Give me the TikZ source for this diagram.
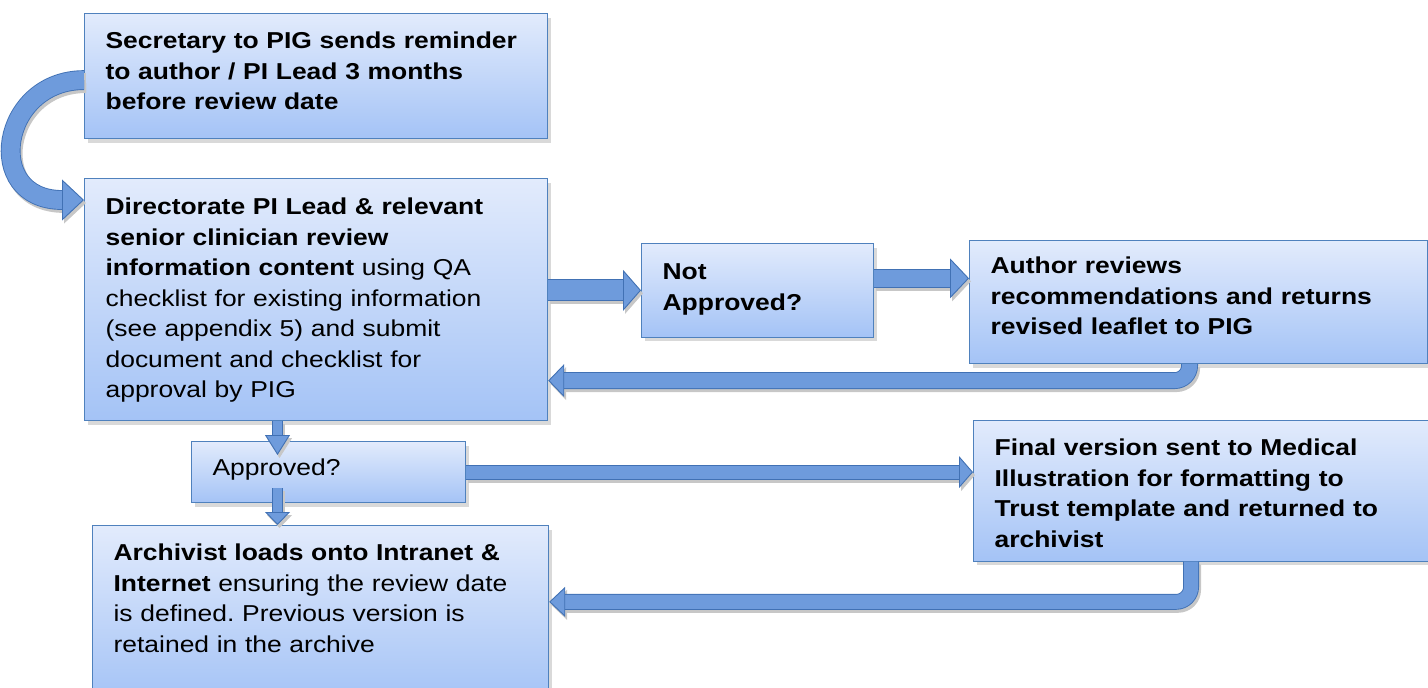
\documentclass[tikz,border=0pt]{standalone}
\usepackage{fontspec}
\setmainfont{Liberation Sans}[FakeStretch=1.15]
\usetikzlibrary{arrows.meta, calc, shadows}

\definecolor{boxtop}{RGB}{226,235,252}
\definecolor{boxbot}{RGB}{164,195,246}
\definecolor{boxline}{RGB}{79,129,189}
\definecolor{arrfill}{RGB}{110,155,220}
\definecolor{arrline}{RGB}{65,113,180}
\colorlet{tipfill}{arrfill}
\frenchspacing

% struts that fix the space above the first and below the last line
\newcommand{\topgap}[1]{\rule{0pt}{#1}}
\newcommand{\botgap}[1]{\rule[-#1]{0pt}{#1}}

\begin{document}
\begin{tikzpicture}[x=1pt, y=-1pt,
  box/.style={draw=boxline, line width=1.2pt, top color=boxtop, bottom color=boxbot,
              anchor=north west, align=left, inner xsep=21pt, inner ysep=0pt,
              font=\fontsize{23pt}{30.5pt}\selectfont,
              drop shadow={shadow xshift=3pt, shadow yshift=-4pt, opacity=0.3}},
  blk/.style n args={3}{draw=arrline, line width=0.9pt, double=arrfill, double distance=#1,
              -{Triangle[width=#2, length=#3, line width'=0.9pt, fill=tipfill]},
              preaction={draw=black!22, double=black!22,
                         /utils/exec={\colorlet{tipfill}{black!22}},
                         transform canvas={xshift=2pt, yshift=-3pt}}}
]
  \useasboundingbox (0,0) rectangle (1428,688);

  \node[box, text width=421pt] (sec) at (84,13)
    {\bfseries\topgap{35pt}Secretary to PIG sends reminder\\
     to author / PI Lead 3 months\\
     before review date\botgap{29pt}};
  \node[box, text width=421pt] (dir) at (84,178)
    {\bfseries\topgap{36pt}Directorate PI Lead \& relevant\\
     senior clinician review\\
     information content\mdseries{} using QA\\
     checklist for existing information\\
     (see appendix 5) and submit\\
     document and checklist for\\
     approval by PIG\botgap{23pt}};
  \node[box, text width=190pt] (notappr) at (641,243)
    {\bfseries\topgap{36pt}Not\\Approved?\botgap{27pt}};
  \node[box, text width=416pt] (author) at (969,240)
    {\bfseries\topgap{33pt}Author reviews\\
     recommendations and returns\\
     revised leaflet to PIG\botgap{29pt}};
  \node[box, text width=232pt] (approved) at (191,441)
    {\topgap{34pt}Approved?\botgap{27pt}};
  \node[box, text width=414pt] (archiv) at (92,525)
    {\bfseries\topgap{35pt}Archivist loads onto Intranet \&\\
     Internet\mdseries{} ensuring the review date\\
     is defined. Previous version is\\
     retained in the archive\botgap{49pt}};
  \node[box, text width=413pt] (final) at (973,420)
    {\bfseries\topgap{35pt}Final version sent to Medical\\
     Illustration for formatting to\\
     Trust template and returned to\\
     archivist\botgap{14pt}};

  \coordinate (col) at (277.5,0);

  % block arrows
  \draw[blk={18pt}{41pt}{22pt}] ([yshift=-4pt]sec.west)
    .. controls +(-84,0) and +(-102,0) .. ([yshift=-22pt]dir.north west);
  \draw[blk={20pt}{41pt}{18pt}] (notappr.west -| dir.east) -- (notappr.west);
  \draw[blk={17pt}{40pt}{19pt}] ($(notappr.east)+(0,-12)$)
    -- ($(notappr.east -| author.west)+(0,-12)$);
  \draw[blk={15pt}{33pt}{16pt}, rounded corners=15pt] ($(author.south)+(-9,0)$)
    |- ($(dir.east)+(0,81)$);
  \draw[blk={9pt}{25pt}{20pt}] (dir.south -| col) -- ($(approved.north -| col)+(0,14)$);
  \draw[blk={9pt}{25pt}{13pt}] ($(approved.south -| col)+(0,-15)$) -- (archiv.north -| col);
  \draw[blk={13pt}{32pt}{14pt}] (approved.east) -- (approved.east -| final.west);
  \draw[blk={14pt}{30pt}{16pt}, rounded corners=15pt] ($(final.south)+(-10,0)$)
    |- ($(archiv.east)+(0,-11.5)$);
\end{tikzpicture}
\end{document}
